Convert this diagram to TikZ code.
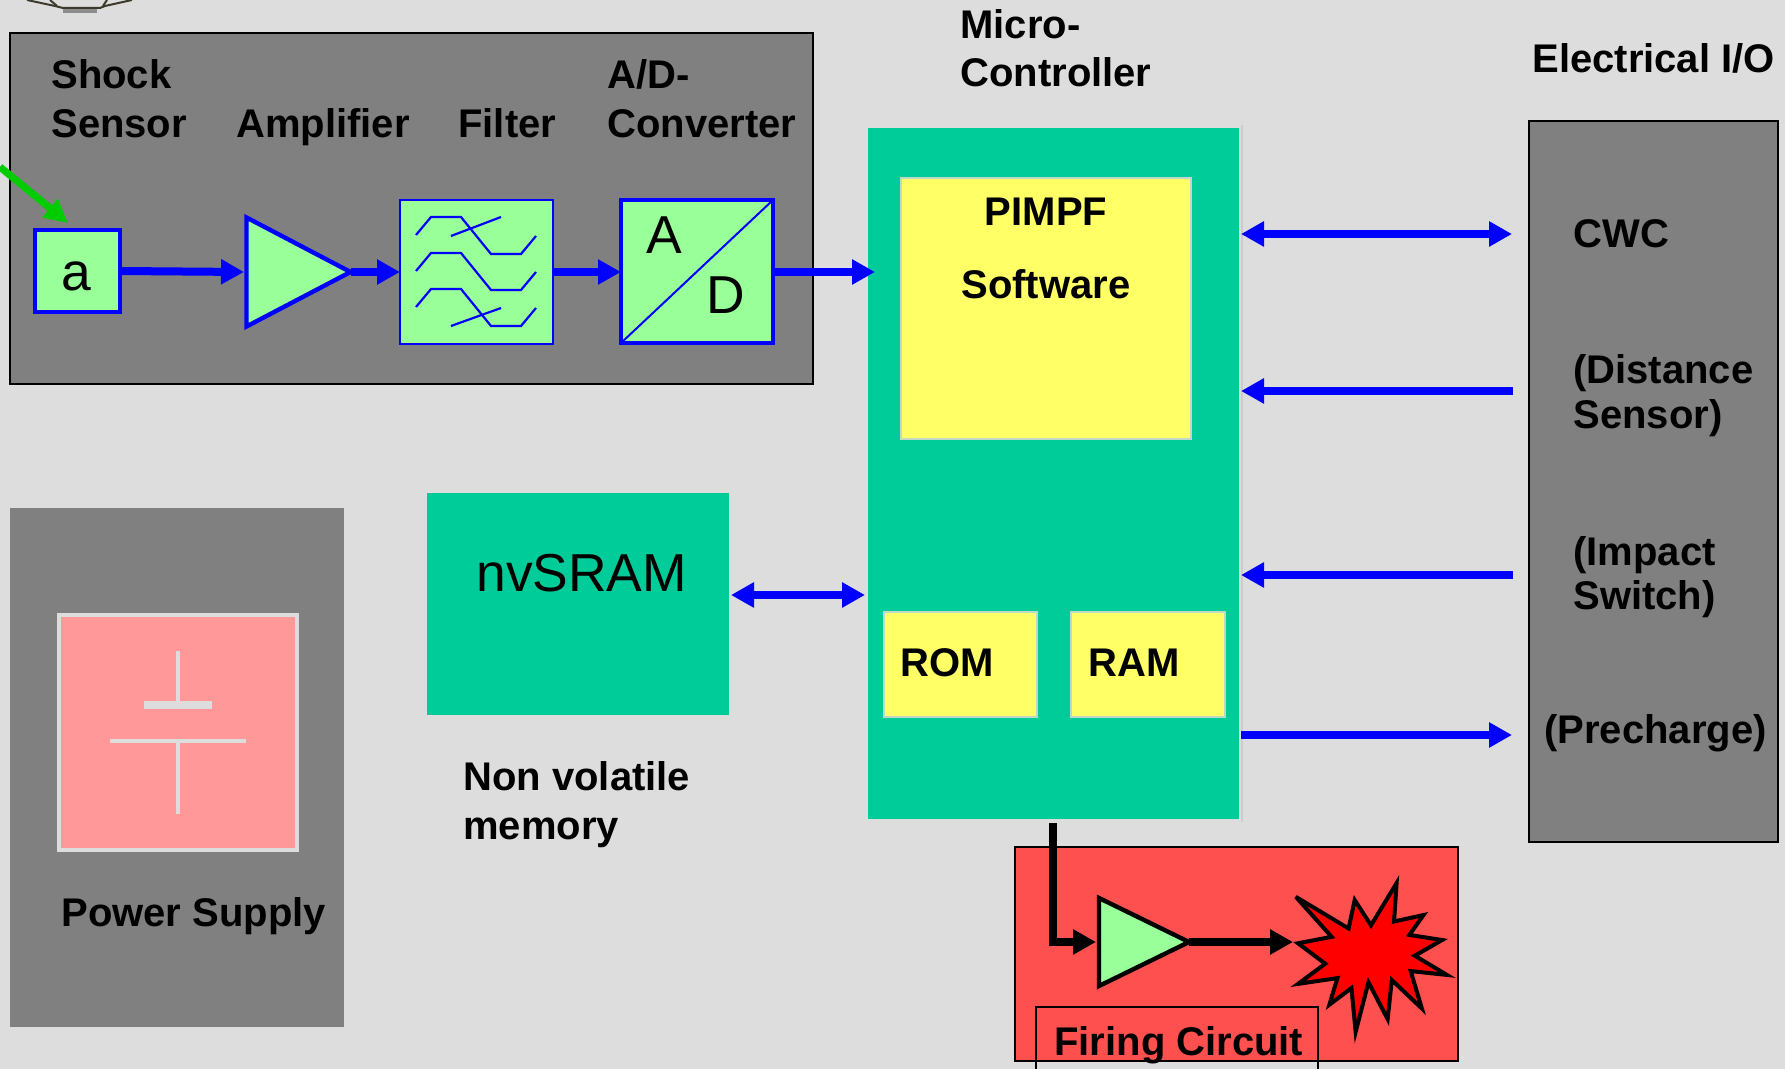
\documentclass[tikz,border=0pt]{standalone}
\usepackage{fontspec}
\setmainfont{Liberation Sans}
\usetikzlibrary{arrows.meta,shapes.geometric,calc}
\definecolor{bgc}{HTML}{DDDDDD}
\definecolor{panelgray}{HTML}{808080}
\definecolor{mint}{HTML}{00CC99}
\definecolor{lgreen}{HTML}{99FF99}
\definecolor{yel}{HTML}{FFFF66}
\definecolor{yeledge}{HTML}{BFD8C8}
\definecolor{pinkb}{HTML}{FF9999}
\definecolor{redpanel}{HTML}{FF5050}
\definecolor{arrowgreen}{HTML}{00CC00}
\newcommand\pxbox[6]{\node[#2,rectangle,inner sep=0pt,outer sep=0pt,anchor=north west,minimum width={(#5-#3)*0.5pt},minimum height={(#6-#4)*0.5pt}] (#1) at (#3,#4) {};}
\tikzset{
 x=0.5pt,y=-0.5pt,
 grayp/.style={fill=panelgray,draw=black,line width=1pt},
 graypn/.style={fill=panelgray,draw=none},
 mintbox/.style={fill=mint,draw=none},
 yelbox/.style={fill=yel,draw=yeledge,line width=1pt},
 gbox/.style={fill=lgreen,draw=blue,line width=2pt},
 gtri/.style={isosceles triangle,isosceles triangle stretches,inner sep=0pt,outer sep=0pt,fill=lgreen,draw=#1,line width=2.2pt,shape border rotate=0,anchor=lower side},
 lbl/.style={anchor=base west,inner sep=0pt,font=\fontsize{20}{23}\selectfont\bfseries},
 big/.style={anchor=base west,inner sep=0pt,font=\fontsize{26.7}{30}\selectfont},
 barrow/.style={draw=blue,line width=4pt,-{Triangle[length=11.5pt,width=12pt,fill=blue]}},
 bdarrow/.style={draw=blue,line width=4pt,{Triangle[length=11.5pt,width=12pt,fill=blue]}-{Triangle[length=11.5pt,width=12pt,fill=blue]}},
 karrow/.style={draw=black,line width=4pt,-{Triangle[length=11.5pt,width=12pt,fill=black]}},
 fcurve/.style={draw=blue,line width=1.1pt},
 batt/.style={draw=bgc,line width=2pt},
}
\begin{document}
\begin{tikzpicture}
\useasboundingbox (0,0) rectangle (1785,1069);
\fill[bgc] (0,0) rectangle (1785,1069);
% ornament clipped at top-left
\fill[black!45] (63,9) rectangle (97,13);
\draw[draw=black!75!olive,line width=1pt] (27,0) -- (55,6) -- (63,8) -- (100,8) -- (105,6) -- (132,0);
\draw[draw=black!75!olive,line width=1pt] (50,0) -- (57,6);
\draw[draw=black!75!olive,line width=1pt] (107,0) -- (103,6);
% panels
\pxbox{adc}{grayp}{10}{33}{813}{384}
\pxbox{power}{graypn}{10}{508}{344}{1027}
\pxbox{nv}{mintbox}{427}{493}{729}{715}
\draw[draw=black!20,line width=0.8pt] (1242,125) -- (1242,822);
\pxbox{mc}{mintbox}{868}{128}{1239}{819}
\pxbox{pimpf}{yelbox}{901}{178}{1191}{439}
\pxbox{rom}{yelbox}{884}{612}{1037}{717}
\pxbox{ram}{yelbox}{1071}{612}{1225}{717}
\pxbox{io}{grayp}{1529}{121}{1778}{842}
\pxbox{fire}{fill=redpanel,draw=black,line width=1pt}{1015}{847}{1458}{1061}
\pxbox{firelbl}{draw=black,line width=1pt}{1036}{1007}{1318}{1085}
% pink battery box
\pxbox{pink}{fill=pinkb,draw=bgc,line width=2pt}{59}{615}{297}{850}
\draw[batt] (178,651) -- (178,703);
\fill[bgc] (144,701) rectangle (212,709);
\draw[batt] (110,741) -- (246,741);
\draw[batt] (178,741) -- (178,814);
% signal chain
\pxbox{sensor}{gbox}{35}{230}{120}{312}
\node[big,anchor=base] (ta) at (76,291) {a};
\node[gtri=blue,minimum width=54.5pt,minimum height=52pt] (amp) at (246.5,272) {};
\pxbox{filt}{fill=lgreen,draw=blue,line width=1.2pt}{400}{200}{553}{344}
\pxbox{ad}{gbox}{621}{200}{773}{343}
\draw[blue,line width=1pt] (ad.south west) -- (ad.north east);
\node[big] (tA) at (646,254) {A};
\node[big] (tD) at (706,314) {D};
% filter curves
\foreach \dy in {0,36,72}{
 \draw[fcurve] (416,235+\dy) -- (431,217+\dy) -- (461,217+\dy) -- (491,254+\dy) -- (521,254+\dy) -- (536,236+\dy);
}
\draw[fcurve] (451,236) -- (501,217);
\draw[fcurve] (451,326) -- (501,308);
% connectors
\coordinate (shock) at (0,167);
\coordinate (sensortop) at (68,223);
\draw[draw=arrowgreen,line width=3.6pt,-{Triangle[length=11.7pt,width=11.5pt,fill=arrowgreen]}] (shock) -- (sensortop);
\coordinate (ampin) at (244,272);
\draw[barrow] (sensor.east) -- (ampin);
\draw[barrow] (amp.apex) -- (amp.apex -| filt.west);
\draw[barrow] (filt.east |- amp.apex) -- (ad.west |- amp.apex);
\draw[barrow] (ad.east |- amp.apex) -- (875,272);
\coordinate (cwcR) at (1512,234);
\coordinate (dsR) at (1513,391);
\coordinate (isR) at (1513,575);
\coordinate (pcR) at (1512,735);
\draw[bdarrow] (1241,234) -- (cwcR);
\draw[barrow] (dsR) -- (1241,391);
\draw[barrow] (isR) -- (1241,575);
\draw[barrow] (1241,735) -- (pcR);
\draw[bdarrow] (731,595) -- (865,595);
% firing
\node[gtri=black,minimum width=44pt,minimum height=45pt] (famp) at (1099,942) {};
\coordinate (starin) at (1293,942);
\draw[draw=black,line width=2pt,fill=red,line join=miter,miter limit=6]
 ({1371+0.96*(980+945/3-1371)},{957+0.96*(800+428/3-957)})
 \foreach \p/\q in {1050/408,938/283,1103/382,1122/293,1173/372,1253/240,1245/360,1337/340,1293/402,1395/418,1310/467,1410/527,1297/515,1332/632,1238/543,1225/665,1165/550,1125/705,1112/568,1043/620,1068/537,945/555,1030/492}{ -- ({1371+0.96*(980+\p/3-1371)},{957+0.96*(800+\q/3-957)}) } -- cycle;
\coordinate (mcout) at (1053,823);
\coordinate (fampin) at (1096,942);
\draw[karrow] (mcout) |- (fampin);
\draw[karrow] (famp.apex) -- (starin);
% labels
\node[lbl] (t1) at (51,89) {Shock};
\node[lbl] (t2) at (51,138) {Sensor};
\node[lbl] (t3) at (236,138) {Amplifier};
\node[lbl] (t4) at (458,138) {Filter};
\node[lbl] (t5) at (607,89) {A/D-};
\node[lbl] (t6) at (607,138) {Converter};
\node[lbl] (t7) at (960,39) {Micro-};
\node[lbl] (t8) at (960,87) {Controller};
\node[lbl] (t9) at (1532,73) {Electrical I/O};
\node[lbl,anchor=base] (t10) at (1046,226) {PIMPF};
\node[lbl,anchor=base] (t11) at (1046,299) {Software};
\node[lbl] (t12) at (1573,248) {CWC};
\node[lbl] (t13) at (1573,384) {(Distance};
\node[lbl] (t14) at (1573,429) {Sensor)};
\node[lbl] (t15) at (1573,566) {(Impact};
\node[lbl] (t16) at (1573,610) {Switch)};
\node[lbl] (t17) at (1544,743) {(Precharge)};
\node[lbl] (t18) at (900,677) {ROM};
\node[lbl] (t19) at (1088,677) {RAM};
\node[lbl] (t20) at (463,791) {Non volatile};
\node[lbl] (t21) at (463,839) {memory};
\node[lbl] (t22) at (61,926) {Power Supply};
\node[lbl] (t23) at (1054,1055) {Firing Circuit};
\node[big] (t24) at (476,592) {nvSRAM};
\end{tikzpicture}
\end{document}
